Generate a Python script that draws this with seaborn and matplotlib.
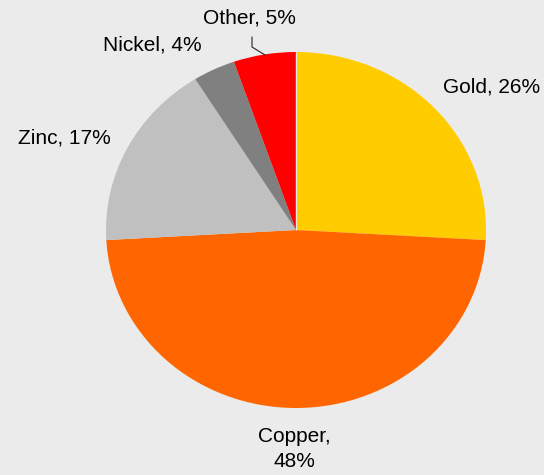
import numpy as np
import matplotlib
matplotlib.use("Agg")
import matplotlib.pyplot as plt
import seaborn as sns

# 데이터 (그림에서 읽은 비율, %)
metals = ["Gold", "Copper", "Zinc", "Nickel", "Other"]
shares = [25.9, 48.2, 17.0, 3.6, 5.3]
colors = ["#FFCC00", "#FF6600", "#C0C0C0", "#808080", "#FF0000"]
label_text = ["Gold, 26%", "Copper,\n48%", "Zinc, 17%", "Nickel, 4%", "Other, 5%"]

sns.set_theme(style="white")
plt.rcParams["font.family"] = ["Liberation Sans", "DejaVu Sans"]

W, H = 544, 475
fig = plt.figure(figsize=(W / 100, H / 100), dpi=100, facecolor="#EBEBEB")

# 파이 영역 (픽셀 기준: x 106~486, y 52~408)
ax = fig.add_axes([106 / W, 1 - 408 / H, 380 / W, 356 / H])
ax.set_facecolor("none")
ax.pie(shares, colors=colors, startangle=90, counterclock=False,
       radius=1, wedgeprops=dict(linewidth=0))
ax.set_aspect("auto")
ax.set_xlim(-1, 1)
ax.set_ylim(-1, 1)
ax.axis("off")

# 시작선 (Other / Gold 경계의 흰 선)
ax.plot([0, 0], [0, 1], color="#F4E4E0", linewidth=1.0, solid_capstyle="butt")

# 라벨 위치 (픽셀 -> 축 좌표)
def px(x, y):
    return (x - 296) / 190, (230 - y) / 178

pos = [(443, 87, "left"),
       (294, 449, "center"),
       (111, 138, "right"),
       (202, 45, "right"),
       (249, 18, "center")]
for t, (x, y, ha) in zip(label_text, pos):
    xx, yy = px(x, y)
    ax.text(xx, yy, t, ha=ha, va="center", fontsize=15, color="#000000",
            linespacing=1.45, clip_on=False)

# Other 리더 선
lx, ly = zip(px(252, 37), px(252, 47), px(265, 55))
ax.plot(lx, ly, color="#222222", linewidth=0.8, clip_on=False)

fig.savefig("out.png", dpi=100, facecolor=fig.get_facecolor())
